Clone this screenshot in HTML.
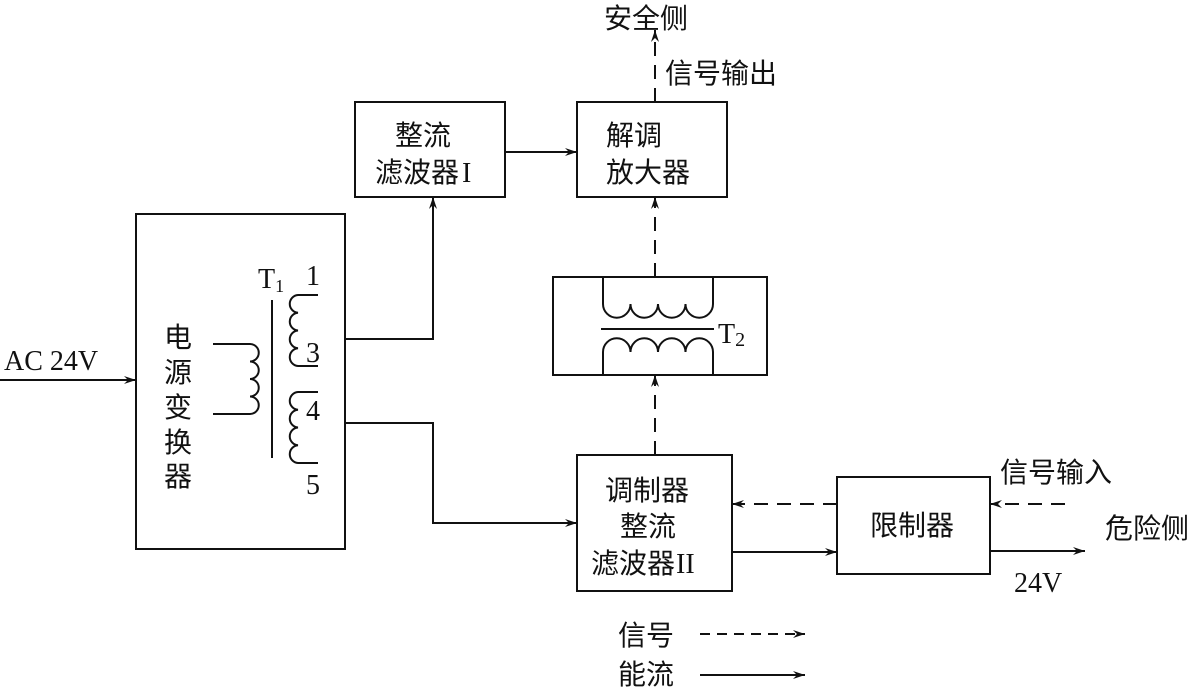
<!DOCTYPE html>
<html><head><meta charset="utf-8"><style>
html,body{margin:0;padding:0;background:#fff;}
svg{display:block;}
text{font-family:"Liberation Sans","Noto Sans CJK SC",sans-serif;font-size:28px;fill:#111;}
.l{font-family:"Liberation Serif","Noto Sans CJK SC",serif;}
</style></head><body>
<svg width="1197" height="688" viewBox="0 0 1197 688" xmlns="http://www.w3.org/2000/svg">
<defs>
<marker id="a" viewBox="0 0 12 8" refX="12" refY="4" markerWidth="12" markerHeight="8" markerUnits="userSpaceOnUse" orient="auto">
<path d="M0,0 L12,4 L0,8 L4,4 Z" fill="#111"/></marker>
</defs>
<g fill="none" stroke="#111" stroke-width="2">
<rect x="136" y="214" width="209" height="335"/>
<rect x="355" y="102" width="150" height="95"/>
<rect x="577" y="102" width="150" height="95"/>
<rect x="553" y="277" width="214" height="98"/>
<rect x="577" y="455" width="155" height="136"/>
<rect x="837" y="477" width="153" height="97"/>
<!-- T1 -->
<path d="M213,344 H250 a8.75,8.75 0 0 1 0,17.5 a8.75,8.75 0 0 1 0,17.5 a8.75,8.75 0 0 1 0,17.5 a8.75,8.75 0 0 1 0,17.5 H213"/>
<line x1="272" y1="300" x2="272" y2="458"/>
<path d="M318,295 H298 a8.9,8.9 0 0 0 0,17.75 a8.9,8.9 0 0 0 0,17.75 a8.9,8.9 0 0 0 0,17.75 a8.9,8.9 0 0 0 0,17.75 H318"/>
<path d="M318,392 H298 a8.9,8.9 0 0 0 0,17.75 a8.9,8.9 0 0 0 0,17.75 a8.9,8.9 0 0 0 0,17.75 a8.9,8.9 0 0 0 0,17.75 H318"/>
<!-- T2 -->
<path d="M603,277 V304 a13.75,13.75 0 0 0 27.5,0 a13.75,13.75 0 0 0 27.5,0 a13.75,13.75 0 0 0 27.5,0 a13.75,13.75 0 0 0 27.5,0 V277"/>
<line x1="601" y1="329" x2="714" y2="329"/>
<path d="M603,375 V352 a13.75,13.75 0 0 1 27.5,0 a13.75,13.75 0 0 1 27.5,0 a13.75,13.75 0 0 1 27.5,0 a13.75,13.75 0 0 1 27.5,0 V375"/>
<!-- solid connectors -->
<line x1="0" y1="380" x2="136" y2="380" marker-end="url(#a)"/>
<path d="M345,339 H433 V197" marker-end="url(#a)"/>
<path d="M345,423 H433 V523 H577" marker-end="url(#a)"/>
<line x1="505" y1="152" x2="577" y2="152" marker-end="url(#a)"/>
<line x1="732" y1="552" x2="837" y2="552" marker-end="url(#a)"/>
<line x1="990" y1="551" x2="1085" y2="551" marker-end="url(#a)"/>
<line x1="700" y1="675" x2="805" y2="675" marker-end="url(#a)"/>
<!-- dashed -->
<g stroke-dasharray="14,9">
<line x1="655" y1="102" x2="655" y2="30" marker-end="url(#a)"/>
<line x1="655" y1="277" x2="655" y2="197" marker-end="url(#a)"/>
<line x1="655" y1="455" x2="655" y2="375" marker-end="url(#a)"/>
<line x1="837" y1="504" x2="732" y2="504" marker-end="url(#a)"/>
<line x1="1065" y1="504" x2="990" y2="504" marker-end="url(#a)"/>
<line x1="700" y1="634" x2="805" y2="634" marker-end="url(#a)" stroke-dasharray="10,7"/>
</g>
</g>
<text x="604" y="28">安全侧</text>
<text x="665" y="83">信号输出</text>
<text x="395" y="145">整流</text>
<text x="375" y="182">滤波器</text><text class="l" x="462" y="182">I</text>
<text x="606" y="145">解调</text>
<text x="606" y="182">放大器</text>
<text class="l" x="4" y="370">AC 24V</text>
<text x="164" y="347">电</text>
<text x="164" y="382">源</text>
<text x="164" y="417">变</text>
<text x="164" y="452">换</text>
<text x="164" y="486">器</text>
<text class="l" x="258" y="288">T<tspan font-size="18" dy="4">1</tspan></text>
<text class="l" x="306" y="285">1</text>
<text class="l" x="306" y="362">3</text>
<text class="l" x="306" y="420">4</text>
<text class="l" x="306" y="494">5</text>
<text class="l" x="718" y="343">T<tspan font-size="20" dy="3">2</tspan></text>
<text x="605" y="500">调制器</text>
<text x="620" y="536">整流</text>
<text x="591" y="573">滤波器</text><text class="l" x="676" y="573">II</text>
<text x="1000" y="482">信号输入</text>
<text x="870" y="535">限制器</text>
<text x="1105" y="538">危险侧</text>
<text class="l" x="1014" y="592">24V</text>
<text x="618" y="645">信号</text>
<text x="618" y="684">能流</text>
</svg>
</body></html>
